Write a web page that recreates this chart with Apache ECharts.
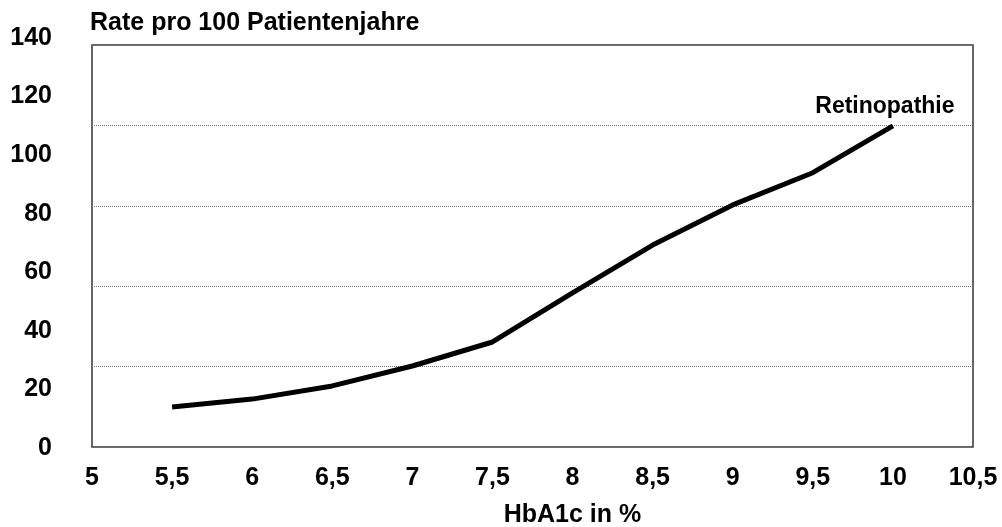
<!DOCTYPE html>
<html>
<head>
<meta charset="utf-8">
<script src="https://cdn.jsdelivr.net/npm/echarts@6/dist/echarts.min.js"></script>
<style>
  html, body { margin: 0; padding: 0; background: #fff; }
  #chart { width: 1002px; height: 527px; }
</style>
</head>
<body>
<div id="chart"></div>
<script>
// HbA1c-Werte (x) und Retinopathie-Rate pro 100 Patientenjahre (y)
var hba1c = [5.5, 6, 6.5, 7, 7.5, 8, 8.5, 9, 9.5, 10]
var retinopathie = [14, 16.7, 21.2, 28, 36.2, 53, 69.3, 83, 94, 110]
var seriesName = 'Retinopathie'
var yTitle = 'Rate pro 100 Patientenjahre'
var xTitle = 'HbA1c in %'

var font = 'Liberation Sans, Arial, sans-serif'

var points = hba1c.map(function (x, i) {
  return [x, retinopathie[i]]
})

var myChart = echarts.init(document.getElementById('chart'))
var option = {
  backgroundColor: '#fff',
  animation: false,
  title: {
    text: yTitle,
    left: 90,
    top: 11,
    padding: 0,
    textStyle: { color: '#000', fontSize: 25, fontWeight: 'bold', fontFamily: font }
  },
  grid: [
    // Rahmen + Hilfslinien
    { left: 92, right: 29, top: 45, bottom: 80, outerBoundsMode: 'none', show: true, borderColor: '#333', borderWidth: 1.5, backgroundColor: 'transparent' },
    // Beschriftung der y-Achse
    { left: 92, right: 29, top: 38, bottom: 79, outerBoundsMode: 'none' }
  ],
  xAxis: [
    {
      gridIndex: 0,
      type: 'value',
      min: 5,
      max: 10.5,
      interval: 0.5,
      name: xTitle,
      nameLocation: 'middle',
      nameGap: 56,
      nameTextStyle: { color: '#000', fontSize: 25, fontWeight: 'bold', fontFamily: font, padding: [0, 0, 0, 80] },
      axisLine: { show: false },
      axisTick: { show: false },
      splitLine: { show: false },
      axisLabel: {
        margin: 19,
        color: '#000',
        fontSize: 25,
        fontWeight: 'bold',
        fontFamily: font,
        showMinLabel: true,
        showMaxLabel: true,
        formatter: function (v) { return String(v).replace('.', ',') }
      }
    },
    { gridIndex: 1, type: 'value', min: 5, max: 10.5, show: false }
  ],
  yAxis: [
    {
      gridIndex: 0,
      type: 'value',
      min: 0,
      max: 100,
      interval: 20,
      axisLine: { show: false },
      axisTick: { show: false },
      axisLabel: { show: false },
      splitLine: { show: true, lineStyle: { color: '#777', type: 'dotted', width: 1 } }
    },
    {
      gridIndex: 1,
      type: 'value',
      min: 0,
      max: 140,
      interval: 20,
      axisLine: { show: false },
      axisTick: { show: false },
      splitLine: { show: false },
      axisLabel: {
        margin: 40,
        padding: [3, 0, 0, 0],
        color: '#000',
        fontSize: 25,
        fontWeight: 'bold',
        fontFamily: font
      }
    }
  ],
  series: [
    {
      name: seriesName,
      type: 'line',
      xAxisIndex: 1,
      yAxisIndex: 1,
      data: points,
      showSymbol: false,
      symbol: 'none',
      lineStyle: { color: '#000', width: 5 },
      endLabel: {
        show: true,
        formatter: '{a}',
        distance: 0,
        align: 'center',
        verticalAlign: 'bottom',
        offset: [-8, -8],
        color: '#000',
        fontSize: 23,
        fontWeight: 'bold',
        fontFamily: font
      },
      z: 5
    }
  ]
}
myChart.setOption(option)
</script>
</body>
</html>
